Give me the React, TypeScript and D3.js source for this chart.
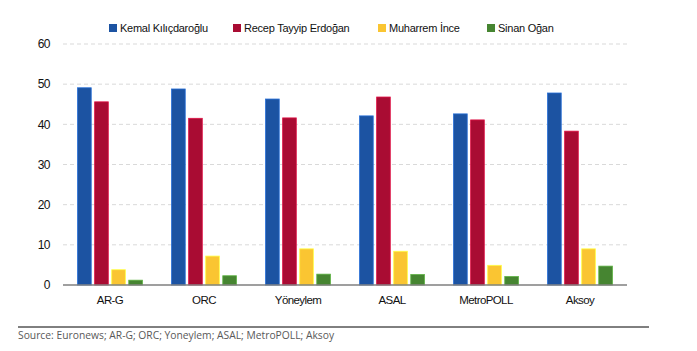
import { useRef, useEffect } from 'react';
import * as d3 from 'd3';

const pollsters = ['AR-G', 'ORC', 'Yöneylem', 'ASAL', 'MetroPOLL', 'Aksoy'];
const candidates = ['Kemal Kılıçdaroğlu', 'Recep Tayyip Erdoğan', 'Muharrem İnce', 'Sinan Oğan'];
const kilicdaroglu = [49.1, 48.8, 46.3, 42.1, 42.6, 47.8];
const erdogan = [45.6, 41.5, 41.6, 46.8, 41.1, 38.3];
const ince = [3.8, 7.2, 9.0, 8.4, 4.9, 9.0];
const ogan = [1.2, 2.3, 2.7, 2.6, 2.1, 4.7];
const yTicks = [0, 10, 20, 30, 40, 50, 60];
const colors = ['#1C53A2', '#A90C33', '#FAC532', '#468531'];
const source = 'Source: Euronews; AR-G; ORC; Yoneylem; ASAL; MetroPOLL; Aksoy';

export default function App() {
  const svgRef = useRef<SVGSVGElement>(null);

  useEffect(() => {
    if (!svgRef.current) return;
    const svg = d3.select(svgRef.current);
    svg.selectAll('*').remove();

    const series = [kilicdaroglu, erdogan, ince, ogan];
    const left = 63;
    const right = 627;
    const top = 44;
    const bottom = 285;

    const x0 = d3.scaleBand<string>().domain(pollsters).range([left, right]).paddingInner(0.31).paddingOuter(0.155);
    const x1 = d3.scaleBand<string>().domain(candidates).range([0, x0.bandwidth()]).paddingInner(0.2);
    const y = d3.scaleLinear().domain([0, 60]).range([bottom, top]);

    // gridlines
    svg.append('g')
      .selectAll('line')
      .data(yTicks.filter((t) => t > 0))
      .join('line')
      .attr('x1', left)
      .attr('x2', right)
      .attr('y1', (d) => y(d))
      .attr('y2', (d) => y(d))
      .attr('stroke', '#d9d9d9')
      .attr('stroke-dasharray', '4,3');

    // tick labels
    svg.append('g')
      .selectAll('text')
      .data(yTicks)
      .join('text')
      .attr('x', 50)
      .attr('y', (d) => y(d))
      .attr('dy', '0.35em')
      .attr('text-anchor', 'end')
      .attr('font-family', 'Liberation Sans, Arial, sans-serif')
      .attr('font-size', 12)
      .attr('letter-spacing', -0.5)
      .attr('fill', '#111')
      .text((d) => d);

    // bars
    const groups = svg.append('g')
      .selectAll('g')
      .data(pollsters)
      .join('g')
      .attr('transform', (d) => `translate(${x0(d)},0)`);

    groups.selectAll('rect')
      .data((_, i) => candidates.map((c, k) => ({ c, k, v: series[k][i] })))
      .join('rect')
      .attr('x', (d) => x1(d.c)!)
      .attr('y', (d) => y(d.v))
      .attr('width', x1.bandwidth())
      .attr('height', (d) => y(0) - y(d.v))
      .attr('fill', (d) => colors[d.k])
      .attr('stroke', (d) => d3.color(colors[d.k])!.brighter(0.8).formatHex())
      .attr('stroke-width', 0.8);

    // axis line
    svg.append('line')
      .attr('x1', left)
      .attr('x2', right)
      .attr('y1', bottom)
      .attr('y2', bottom)
      .attr('stroke', '#7f7f7f')
      .attr('stroke-width', 1.5);

    // category labels
    svg.append('g')
      .selectAll('text')
      .data(pollsters)
      .join('text')
      .attr('x', (d) => x0(d)! + x0.bandwidth() / 2)
      .attr('y', 304)
      .attr('text-anchor', 'middle')
      .attr('font-family', 'Liberation Sans, Arial, sans-serif')
      .attr('font-size', 11.5)
      .attr('letter-spacing', -0.6)
      .attr('fill', '#111')
      .text((d) => d);

    // legend
    const legendX = [109, 233, 378, 487];
    const legend = svg.append('g')
      .selectAll('g')
      .data(candidates)
      .join('g')
      .attr('transform', (_, i) => `translate(${legendX[i]},24)`);
    legend.append('rect')
      .attr('width', 8)
      .attr('height', 8)
      .attr('fill', (_, i) => colors[i]);
    legend.append('text')
      .attr('x', 11)
      .attr('y', 8)
      .attr('font-family', 'Liberation Sans, Arial, sans-serif')
      .attr('font-size', 11)
      .attr('letter-spacing', -0.25)
      .attr('fill', '#111')
      .text((d) => d);

    // source line and note
    svg.append('line')
      .attr('x1', 18)
      .attr('x2', 649)
      .attr('y1', 327)
      .attr('y2', 327)
      .attr('stroke', '#000')
      .attr('stroke-width', 1);
    svg.append('text')
      .attr('x', 18)
      .attr('y', 339)
      .attr('font-family', 'Open Sans, sans-serif')
      .attr('font-size', 10.3)
      .attr('fill', '#595959')
      .text(source);
  }, []);

  return (
    <svg
      ref={svgRef}
      width={697}
      height={351}
      style={{ position: 'absolute', left: 0, top: 0, background: '#fff' }}
    />
  );
}
